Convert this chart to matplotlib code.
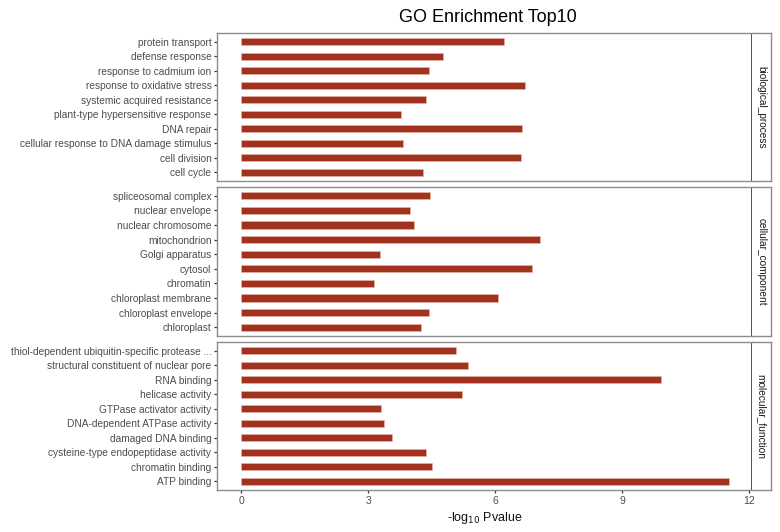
import matplotlib
matplotlib.use("Agg")
import matplotlib.pyplot as plt

plt.rcParams['font.family'] = ['Liberation Sans', 'DejaVu Sans']

bp_terms = ["protein transport", "defense response", "response to cadmium ion",
            "response to oxidative stress", "systemic acquired resistance",
            "plant-type hypersensitive response", "DNA repair",
            "cellular response to DNA damage stimulus", "cell division", "cell cycle"]
bp_vals = [6.20, 4.78, 4.44, 6.70, 4.37, 3.77, 6.64, 3.83, 6.61, 4.29]

cc_terms = ["spliceosomal complex", "nuclear envelope", "nuclear chromosome",
            "mitochondrion", "Golgi apparatus", "cytosol", "chromatin",
            "chloroplast membrane", "chloroplast envelope", "chloroplast"]
cc_vals = [4.45, 3.99, 4.08, 7.07, 3.28, 6.87, 3.14, 6.06, 4.44, 4.25]

mf_terms = ["thiol-dependent ubiquitin-specific protease ...",
            "structural constituent of nuclear pore", "RNA binding",
            "helicase activity", "GTPase activator activity",
            "DNA-dependent ATPase activity", "damaged DNA binding",
            "cysteine-type endopeptidase activity", "chromatin binding", "ATP binding"]
mf_vals = [5.08, 5.35, 9.92, 5.22, 3.31, 3.37, 3.56, 4.36, 4.50, 11.54]

facets = ["biological_process", "cellular_component", "molecular_function"]
x_ticks = [0, 3, 6, 9, 12]

W, H = 780, 532
fig = plt.figure(figsize=(W / 100, H / 100), dpi=100)

left_px, right_px, strip_px = 217, 752, 771
panels_px = [(33, 181), (187, 336), (342, 490)]
bar_color = '#A0321F'
text_gray = '#4D4D4D'
border_gray = '#8C8C8C'

xmin, xmax = -0.575, 12.075

groups = [(bp_terms, bp_vals), (cc_terms, cc_vals), (mf_terms, mf_vals)]
for i, ((terms, vals), (top, bot)) in enumerate(zip(groups, panels_px)):
    ax = fig.add_axes([left_px / W, 1 - bot / H, (right_px - left_px) / W, (bot - top) / H])
    n = len(terms)
    ypos = list(range(n))
    ax.barh(ypos, vals, height=0.5, color=bar_color, edgecolor='#E9B8A4', linewidth=0.4)
    ax.set_ylim(n - 1 + 0.6, -0.6)
    ax.set_xlim(xmin, xmax)
    ax.set_yticks(ypos)
    ax.set_yticklabels(terms, fontsize=7.3, color=text_gray)
    ax.tick_params(axis='y', length=2.5, width=0.9, color='#333333', pad=1.5)
    ax.set_xticks(x_ticks)
    if i < 2:
        ax.tick_params(axis='x', bottom=False, labelbottom=False)
    else:
        ax.set_xticklabels([str(t) for t in x_ticks], fontsize=7.5, color=text_gray)
        ax.tick_params(axis='x', length=2.5, width=0.9, color='#333333', pad=2)
        ax.set_xlabel(r'-log$_{10}$ Pvalue', fontsize=9, color='#111111', labelpad=3)
    for side in ['top', 'left', 'bottom']:
        ax.spines[side].set_color(border_gray)
        ax.spines[side].set_linewidth(1.0)
    ax.spines['right'].set_color('#333333')
    ax.spines['right'].set_linewidth(1.2)
    ax.spines['right'].set_capstyle('butt')
    # strip
    sax = fig.add_axes([right_px / W, 1 - bot / H, (strip_px - right_px) / W, (bot - top) / H])
    sax.set_xticks([])
    sax.set_yticks([])
    sax.set_facecolor('white')
    for side in ['top', 'right', 'bottom']:
        sax.spines[side].set_color(border_gray)
        sax.spines[side].set_linewidth(1.0)
    sax.spines['left'].set_visible(False)
    sax.text(0.5, 0.5, facets[i], rotation=-90, ha='center', va='center',
             fontsize=7.3, color='#1A1A1A', transform=sax.transAxes)

fig.text(488 / W, 1 - 17 / H, "GO Enrichment Top10",
         ha='center', va='center', fontsize=13, color='black')

fig.savefig("out.png", dpi=100, facecolor='white')
